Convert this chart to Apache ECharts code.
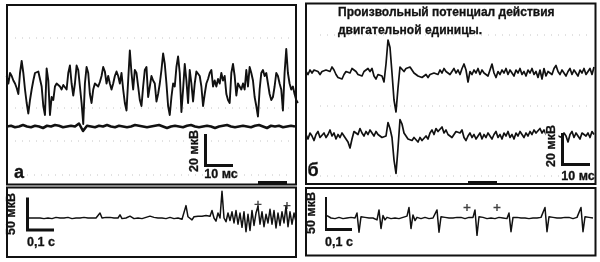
<!DOCTYPE html>
<html><head><meta charset="utf-8">
<script src="https://cdn.jsdelivr.net/npm/echarts@6/dist/echarts.min.js"></script>
<style>html,body{margin:0;padding:0;background:#fff}#c{width:600px;height:262px}</style>
</head><body><div id="c"></div>
<script>
// ---------- DATA (µV samples) ----------
// Panel а, top: interference EMG (sample step 0.64 ms)
const traceA1 = [
 6,1,8,6,3,1,-2,-6,8,16, 8,-3,-12,-19,-10,-3,3,8,7,9,
 10,-1,-14,-20,11,3,-20,-8,-10,-1, 1,2,-1,-3,0,-1,-3,8,13,1,
 -7,1,13,10,-1,-12,-26,1,12,8, -6,-12,-3,1,0,-1,2,6,12,9,
 1,6,1,-3,1,6,9,6,1,8, -3,-12,-17,3,23,8,-3,10,8,-1,
 -10,-14,-1,10,12,-8,-1,6,3,1,
 -11,-6,1,10,21,14,1,-14,-20,-8, 1,-1,12,19,8,-18,-3,14,3,-12,
 10,1,-11,1,9,8,6,-1,-14,-6, 1,4,8,10,-1,3,-1,4,1,8,
 3,6,-6,-10,-12,8,14,6,-7,1, -1,-3,1,-3,10,-1,12,8,3,-8,
 -14,-21,-3,8,10,6,8,1,-6,-10, -8,-1,8,6,1,-3,-17,8,24,8,
 1,-3,-1,-6,-10,-12
];
// Panel а, second channel (sample step 1.54 ms)
const traceA2 = [
 0,0.5,-0.5,0,1,0,-0.5,0.5,0,-1, 0.5,0,1,0.5,-0.5,0,0.5,0,2,-3,
 0.5,0,-0.5,0.5,0,1,0,-0.5,0.5,0, -0.5,0,1,0.5,0,-0.5,0,0.5,1,0,
 -1,0,0.5,0,-0.5,0.5,1,0,-0.5,0, 0.5,0,-1,0,0.5,1,0,-0.5,0,0.5,
 0,-0.5,0.5,1,0,-1,0.5,0,0.5,-0.5, 0,0.5,0
];
// Panel б, two channels with a motor-unit potential (sample step 0.77 ms)
const traceB1 = [
 1,-1,2,0,2,3,1,-1,1,0,2,3,1,4,2,-1,-3,-2,-4,-1,1,2,0,3,2,1,-1,0,-2,1,2,3,1,3,-2,-4,-1,
 0,-2,-6,6,22,17,0,-18,-26,-10,4,3,1,
 3,2,4,2,0,-1,-2,-1,-3,-2,-1,-3,-1,-2,0,1,-1,2,0,3,1,2,-1,1,3,0,2,-1,3,6,2,-6,1,-1,2,0,3,-1,2,0,
 1,-2,2,6,0,-3,1,-1,2,0,3,-1,2,1,-2,2,0,3,-1,1,-2,2,0,3,-1,1,-3,2,-4,3,-2,1,2,-1,3,5,1,-1,2,0,
 -2,1,3,-1,2,0,-2,2,0,3,-1,1,3,-1,4
];
const traceB2 = [
 1,-2,2,0,-3,1,3,-1,0,2,-1,1,4,0,2,-2,1,-1,2,0,-2,-4,-8,-2,3,2,1,5,2,0,3,1,4,2,0,3,1,2,-1,-2,
 0,9,5,-1,-16,-25,-8,11,8,2,0,
 -2,-1,-3,-1,-2,-4,-1,-3,-2,0,-2,2,4,1,5,3,4,6,2,4,1,2,-1,1,3,4,2,4,-1,-3,0,2,-1,1,-2,0,2,-2,1,-1,
 2,0,-2,1,3,-1,1,-2,2,0,3,-1,1,-2,2,0,3,1,-1,2,0,3,1,4,2,3,5,2,4,1,2,0,1,-1,2,0,1,-1,2,0,-4,1,
 3,-1,2,0,-2,2,3,0,2,-1,3,1
];
// Bottom records, slow sweep (sample step 0.008 s)
const traceA3 = [
 0,1,0,-1,0,1,0,0,-1,1,0,1,-1,0,1,0,0,-1,0,1,1,0,-1,0,0,1,0,-1,1,0,0,1,0,-1,0,1,
 8,0,
 -1,1,0,1,-1,0,1,0,
 5,-1,
 1,0,2,3,0,-1,1,0,1,-1,0,1,2,3,0,1,-1,0,1,0,2,-1,0,1,0,-1,1,0,-1,
 -2,0,20,2,3,-3,2,2,3,1,3,2,4,1,3,12,0,-5,8,0,43,0,-6,8,-4,
 10,-8,12,-10,8,-15,10,-22,6,-20,12,-12,8,19,-10,10,-14,6,-8,14,-10,12,-16,8,-12,10,-8,19,-14,10,-10,8,-6
];
const traceB3 = [
 4,2,0,1,-1,0,1,0,-1,1,0,0,1,-1,0,
 8,-23,
 2,0,1,-1,0,1,0,1,
 -3,13,-17,4,-3,
 1,0,-1,1,0,1,-1,0,1,0,
 3,17,-17,5,-4,
 1,0,-1,0,1,0,-1,1,0,1,
 13,-23,
 2,0,1,-1,0,1,0,-1,1,0,1,0,-1,0,1,0,1,
 13,-28,
 2,0,1,0,-1,1,0,1,-1,0,1,0,0,1,-1,
 8,-22,
 1,0,1,-1,0,1,0,1,-1,0,0,1,0,-1,1,0,
 17,-22,
 2,0,1,-1,0,1,0,-1,1,0,1,0,-1,0,1,0,
 17,-22,
 2,0,1,-1,0
];
const markersA3 = [[0.92, 22], [1.036, 20]];   // [s, µV]
const markersB3 = [[0.56, 17], [0.68, 17]];
const scaleTop = {uV: 20, ms: 10};
const scaleBottom = {uV: 50, s: 0.1};
const titleLines = ['Произвольный потенциал действия', 'двигательной единицы.'];
const panelLabels = ['а', 'б'];
const unitTopV = '20 мкВ', unitTopT = '10 мс', unitBotV = '50 мкВ', unitBotT = '0,1 с';

// ---------- LAYOUT ----------
const PX_MS = 2.6, PX_UV_T = 1.5, PX_S = 250, PX_UV_B = 0.62;
const INK = '#111';
const grids = [], xAxes = [], yAxes = [], series = [];
function addGrid(left, baseY, n, dt, pxX, pxY, yMin, yMax) {
  const i = grids.length;
  grids.push({left: left, top: baseY - yMax * pxY, width: (n - 1) * dt * pxX,
              height: (yMax - yMin) * pxY, show: false});
  xAxes.push({type: 'value', gridIndex: i, min: 0, max: (n - 1) * dt, show: false});
  yAxes.push({type: 'value', gridIndex: i, min: yMin, max: yMax, show: false});
  return i;
}
function addTrace(g, arr, dt, w) {
  series.push({type: 'line', xAxisIndex: g, yAxisIndex: g, symbol: 'none', clip: false,
    data: arr.map((v, k) => [k * dt, v]),
    lineStyle: {color: INK, width: w, join: 'round'}, silent: true});
}
function addScaleBar(g, pts) {
  series.push({type: 'line', xAxisIndex: g, yAxisIndex: g, symbol: 'none', clip: false,
    data: pts, lineStyle: {color: INK, width: 3, cap: 'square', join: 'miter'}, silent: true, z: 5});
}
const dtA1 = 0.64, dtA2 = 4 / PX_MS, dtB = 2 / PX_MS, dtS = 0.008;
const gA1 = addGrid(6.7, 85, traceA1.length, dtA1, PX_MS, PX_UV_T, -66.7, 53.3);
const gA2 = addGrid(7, 126.5, traceA2.length, dtA2, PX_MS, PX_UV_T, -10, 10);
const gB1 = addGrid(306, 73, traceB1.length, dtB, PX_MS, PX_UV_T, -30, 30);
const gB2 = addGrid(306, 136, traceB2.length, dtB, PX_MS, PX_UV_T, -30, 30);
const gA3 = addGrid(28, 218, traceA3.length, dtS, PX_S, PX_UV_B, -50, 50);
const gB3 = addGrid(327, 218, traceB3.length, dtS, PX_S, PX_UV_B, -50, 50);
addTrace(gA1, traceA1, dtA1, 1.9);
addTrace(gA2, traceA2, dtA2, 2.6);
addTrace(gB1, traceB1, dtB, 1.7);
addTrace(gB2, traceB2, dtB, 1.7);
addTrace(gA3, traceA3, dtS, 1.5);
addTrace(gB3, traceB3, dtS, 1.5);
function cross(g, pts) {
  series.push({type: 'scatter', xAxisIndex: g, yAxisIndex: g, data: pts, clip: false,
    symbol: 'path://M4,0H6V4H10V6H6V10H4V6H0V4H4Z', symbolSize: 7,
    itemStyle: {color: INK}, silent: true});
}
cross(gA3, markersA3);
cross(gB3, markersB3);
// scale bars placed at their corner pixel, lengths from the axis scales
function barTop(g, left, baseY, cx, cy) {
  const x0 = (cx - left) / PX_MS, y0 = (baseY - cy) / PX_UV_T;
  addScaleBar(g, [[x0, y0 + scaleTop.uV], [x0, y0], [x0 + scaleTop.ms, y0]]);
}
function barBot(g, left, baseY, cx, cy) {
  const x0 = (cx - left) / PX_S, y0 = (baseY - cy) / PX_UV_B;
  addScaleBar(g, [[x0, y0 + scaleBottom.uV], [x0, y0], [x0 + scaleBottom.s, y0]]);
}
barTop(gA1, 6.7, 85, 205.5, 165.5);
barTop(gB2, 306, 136, 562.5, 164.5);
barBot(gA3, 28, 218, 27.5, 230);
barBot(gB3, 327, 218, 325.5, 229.5);

const FONT = 'bold 12.5px "Liberation Sans", Arial, sans-serif';
function txt(x, y, s, opt) {
  opt = opt || {};
  return {type: 'text', x: x, y: y, rotation: opt.rot || 0, z: 100,
    style: {text: s, font: opt.font || FONT, fill: INK, align: opt.align || 'center',
            verticalAlign: 'middle', backgroundColor: opt.bg || null, padding: opt.pad || 0,
            stroke: INK, lineWidth: 0.3}};
}
function rect(x, y, w, h, fill) {
  return {type: 'rect', z: 50, shape: {x: x, y: y, width: w, height: h},
    style: fill ? {fill: INK, stroke: null} : {fill: null, stroke: INK, lineWidth: 2}};
}
function dots(x1, x2, y) {
  return {type: 'line', z: 1, shape: {x1: x1, y1: y, x2: x2, y2: y},
    style: {stroke: '#c4c4c4', lineWidth: 1, lineDash: [1, 6]}};
}
const R = Math.PI / 2;
const graphic = [
  dots(15, 290, 38), dots(15, 290, 108), dots(15, 290, 141), dots(20, 290, 175),
  dots(320, 590, 35), dots(320, 590, 106), dots(320, 590, 176),
  rect(7, 5, 289, 179.5), rect(7, 187.5, 289, 69.5),
  rect(306, 3.5, 289.5, 180.5), rect(306, 188, 289.5, 67.5),
  rect(258, 181, 29, 4, true), rect(468, 181, 29, 4, true),
  txt(338, 13, titleLines[0], {align: 'left', font: 'bold 12px "Liberation Sans", Arial, sans-serif'}),
  txt(338, 31, titleLines[1], {align: 'left', font: 'bold 12px "Liberation Sans", Arial, sans-serif'}),
  txt(19, 173, panelLabels[0], {font: 'bold 18px "Liberation Sans", Arial, sans-serif'}),
  txt(313, 171, panelLabels[1], {font: 'bold 18px "Liberation Sans", Arial, sans-serif'}),
  txt(195, 151, unitTopV, {rot: R}),
  txt(221, 175, unitTopT),
  txt(552, 146, unitTopV, {rot: R, bg: '#fff', pad: [0, 2]}),
  txt(578, 177, unitTopT),
  txt(12, 214, unitBotV, {rot: R}),
  txt(41, 243, unitBotT),
  txt(312, 213, unitBotV, {rot: R}),
  txt(339, 243, unitBotT)
];

const chart = echarts.init(document.getElementById('c'), null, {renderer: 'canvas'});
chart.setOption({animation: false, backgroundColor: '#fff', grid: grids, xAxis: xAxes, yAxis: yAxes,
  series: series, graphic: graphic});
</script></body></html>
